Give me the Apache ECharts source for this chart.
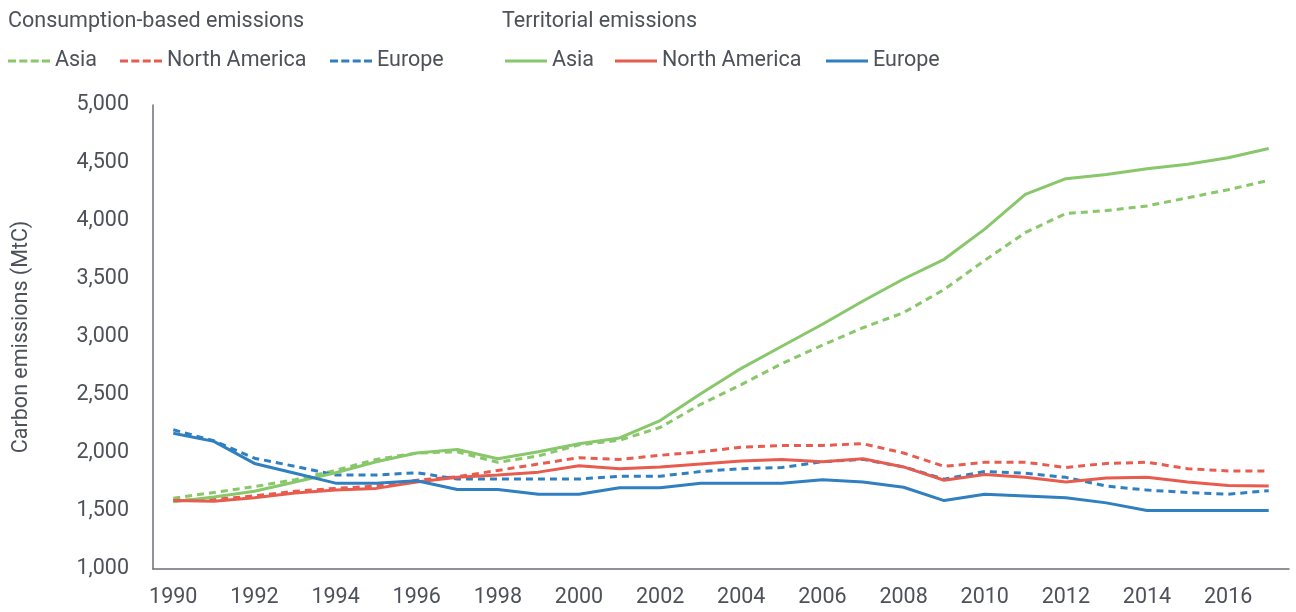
<!DOCTYPE html>
<html>
<head>
<meta charset="utf-8">
<script src="https://cdn.jsdelivr.net/npm/echarts@6/dist/echarts.min.js"></script>
<style>
  html, body { margin: 0; padding: 0; background: #fff; }
  #chart { width: 1296px; height: 612px; }
</style>
</head>
<body>
<div id="chart"></div>
<script>
const years = ['1990','1991','1992','1993','1994','1995','1996','1997','1998','1999','2000','2001','2002','2003',
  '2004','2005','2006','2007','2008','2009','2010','2011','2012','2013','2014','2015','2016','2017']

// consumption-based emissions (MtC)
const asiaCons = [1610,1660,1710,1770,1850,1945,2000,2010,1920,1975,2070,2110,2220,2420,
  2590,2770,2930,3080,3210,3410,3660,3900,4065,4090,4130,4200,4270,4350]
const naCons = [1590,1600,1630,1670,1695,1715,1765,1795,1850,1905,1960,1945,1980,2010,
  2050,2065,2065,2080,2000,1885,1920,1920,1875,1910,1920,1865,1845,1845]
const euCons = [2200,2105,1955,1885,1810,1810,1830,1775,1775,1775,1775,1800,1800,1840,
  1865,1875,1925,1945,1880,1775,1840,1825,1790,1715,1680,1660,1645,1675]

// territorial emissions (MtC)
const asiaTerr = [1580,1620,1670,1750,1830,1925,2000,2030,1950,2010,2080,2130,2280,2510,
  2730,2920,3110,3310,3500,3670,3930,4230,4365,4400,4450,4490,4545,4625]
const naTerr = [1590,1585,1615,1655,1680,1695,1750,1790,1810,1835,1890,1865,1880,1905,
  1930,1945,1925,1950,1880,1765,1815,1790,1750,1785,1790,1750,1720,1715]
const euTerr = [2170,2100,1910,1825,1740,1740,1760,1685,1685,1645,1645,1700,1700,1740,
  1740,1740,1770,1750,1705,1590,1645,1630,1615,1570,1505,1505,1505,1505]

const green = '#88c76a'
const red = '#e85c4f'
const blue = '#2f7fc1'
const textColor = '#4d5159'
const font = 'Roboto, sans-serif'
const fs = 21.5

const dashIcon = 'path://M0,0h8v3h-8z M11.3,0h8v3h-8z M22.7,0h8v3h-8z M34,0h8v3h-8z'
const solidIcon = 'path://M0,0h42v3h-42z'

const myChart = echarts.init(document.getElementById('chart'))

function line (name, data, color, dashed) {
  return {
    name: name,
    type: 'line',
    data: data,
    symbol: 'none',
    lineStyle: { color: color, width: 3, type: dashed ? [7, 5] : 'solid' },
    itemStyle: { color: color }
  }
}

// one legend per item so each sits where the original has it
function legendAt (name, left, dashed) {
  return {
    left: left, top: 45, itemWidth: 42, itemHeight: 3,
    textStyle: { fontSize: fs, color: textColor, fontFamily: font },
    data: [{ name: name, icon: dashed ? dashIcon : solidIcon }]
  }
}

const option = {
  animation: false,
  textStyle: { fontFamily: font },
  title: [
    { text: 'Consumption-based emissions', left: 3, top: 6, textStyle: { fontSize: fs, fontWeight: 'normal', color: textColor, fontFamily: font } },
    { text: 'Territorial emissions', left: 497, top: 6, textStyle: { fontSize: fs, fontWeight: 'normal', color: textColor, fontFamily: font } }
  ],
  legend: [
    legendAt('Asia ', 3, true),
    legendAt('North America ', 115, true),
    legendAt('Europe ', 325, true),
    legendAt('Asia', 500, false),
    legendAt('North America', 610, false),
    legendAt('Europe', 821, false)
  ],
  grid: { left: 153, right: 7, top: 105, bottom: 43, outerBoundsMode: 'none' },
  xAxis: {
    type: 'category',
    data: years,
    boundaryGap: true,
    axisLine: { lineStyle: { color: '#6b6f75', width: 1.5 } },
    axisTick: { show: false },
    axisLabel: { interval: 1, fontSize: fs, color: textColor, margin: 18 }
  },
  yAxis: {
    type: 'value',
    min: 1000,
    max: 5000,
    interval: 500,
    name: 'Carbon emissions (MtC)',
    nameLocation: 'middle',
    nameGap: 120,
    nameTextStyle: { fontSize: fs, color: textColor },
    axisLine: { show: true, lineStyle: { color: '#6b6f75', width: 1.5 } },
    axisTick: { show: false },
    splitLine: { show: false },
    axisLabel: {
      fontSize: fs, color: textColor, margin: 24,
      formatter: v => v.toLocaleString('en-US')
    }
  },
  series: [
    line('Asia ', asiaCons, green, true),
    line('North America ', naCons, red, true),
    line('Europe ', euCons, blue, true),
    line('Asia', asiaTerr, green, false),
    line('North America', naTerr, red, false),
    line('Europe', euTerr, blue, false)
  ]
}
myChart.setOption(option)
</script>
</body>
</html>
